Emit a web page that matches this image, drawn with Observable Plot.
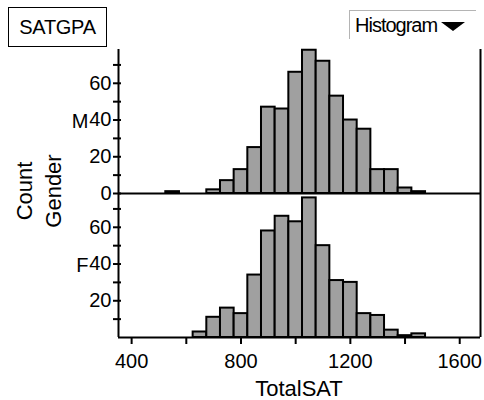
<!DOCTYPE html>
<html>
<head>
<meta charset="utf-8">
<script src="https://cdn.jsdelivr.net/npm/d3@7"></script>
<script src="https://cdn.jsdelivr.net/npm/@observablehq/plot@0.6"></script>
<style>
  body { margin: 0; background: #fff; }
  #wrap { position: relative; width: 484px; height: 400px; font-family: "Liberation Sans", Arial, sans-serif; color: #000; overflow: hidden; }
  #wrap svg { position: absolute; left: 0; top: 0; }
  .lbl { position: absolute; white-space: nowrap; line-height: 1; }
  #title { left: 8px; top: 7px; width: 97px; height: 38px; border: 1px solid #000; display: flex; align-items: center; justify-content: center; font-size: 20px; letter-spacing: -0.3px; }
  #menu { left: 349px; top: 10px; width: 126px; height: 28px; border-top: 1px solid #b4b4b4; border-left: 1px solid #b4b4b4; }
  #menu span { position: absolute; left: 5px; top: 4px; font-size: 20px; letter-spacing: -1px; }
  #menu i { position: absolute; left: 91px; top: 11px; width: 0; height: 0; border-left: 12px solid transparent; border-right: 12px solid transparent; border-top: 9px solid #000; }
  .rot { transform: translate(-50%, -50%) rotate(-90deg); font-size: 22px; }
  #xlab { left: 299px; top: 378px; transform: translateX(-50%); font-size: 22px; }
</style>
</head>
<body>
<div id="wrap">
  <div id="title" class="lbl">SATGPA</div>
  <div id="menu" class="lbl"><span>Histogram</span><i></i></div>
  <div class="lbl rot" style="left:25px; top:191px;">Count</div>
  <div class="lbl rot" style="left:54px; top:191px;">Gender</div>
  <div id="xlab" class="lbl">TotalSAT</div>
</div>
<script>
// bin lower edges (TotalSAT), bin width 50
const binLo = [525, 575, 625, 675, 725, 775, 825, 875, 925, 975, 1025, 1075, 1125, 1175, 1225, 1275, 1325, 1375, 1425];
const binWidth = 50;
const countsM = [1, 0, 0, 2, 7, 13, 25, 47, 46, 66, 78, 72, 53, 40, 35, 13, 13, 3, 1];
const countsF = [0, 0, 3, 11, 16, 13, 34, 58, 66, 63, 76, 50, 31, 30, 13, 12, 4, 1, 2];
const genders = ["M", "F"];
const xDomain = [352, 1676];
const xTicks = [400, 600, 800, 1000, 1200, 1400, 1600];
const xLabels = [400, 800, 1200, 1600];
const yTicksM = [0, 10, 20, 30, 40, 50, 60, 70];
const yTicksF = [10, 20, 30, 40, 50, 60, 70];
const yLabelsM = [0, 20, 40, 60];
const yLabelsF = [20, 40, 60];
const yMax = 78.4;

const rows = [];
binLo.forEach((lo, i) => {
  rows.push({g: "M", lo, hi: lo + binWidth, n: countsM[i]});
  rows.push({g: "F", lo, hi: lo + binWidth, n: countsF[i]});
});
const tickRows = [...yTicksM.map(v => ({g: "M", v})), ...yTicksF.map(v => ({g: "F", v}))];
const labelRows = [...yLabelsM.map(v => ({g: "M", v})), ...yLabelsF.map(v => ({g: "F", v}))];

const chart = Plot.plot({
  width: 484,
  height: 400,
  marginTop: 48,
  marginBottom: 63,
  marginLeft: 118,
  marginRight: 4,
  style: {fontFamily: "'Liberation Sans', Arial, sans-serif", fontSize: "20px", color: "#000", background: "transparent"},
  x: {domain: xDomain, axis: null},
  y: {domain: [0, yMax], axis: null},
  fy: {domain: genders, padding: 0, axis: null},
  marks: [
    Plot.rectY(rows.filter(d => d.n > 0), {x1: "lo", x2: "hi", y: "n", fy: "g", fill: "#a0a0a0", stroke: "#000", strokeWidth: 2}),
    Plot.ruleY([0], {stroke: "#000", strokeWidth: 2}),
    Plot.ruleX(xDomain, {stroke: "#000", strokeWidth: 2}),
    Plot.ruleY(tickRows, {y: "v", fy: "g", x1: xDomain[0], x2: xDomain[0], insetLeft: -5, insetRight: -3, stroke: "#000", strokeWidth: 2}),
    Plot.text(labelRows, {y: "v", fy: "g", text: d => String(d.v), frameAnchor: "left", textAnchor: "end", dx: -7, fontSize: 20}),
    Plot.text(genders, {fy: d => d, text: d => d, frameAnchor: "left", textAnchor: "end", dx: -30, fontSize: 20}),
    Plot.axisX(xTicks, {tickSize: 7, tickPadding: 9, strokeWidth: 2, fontSize: 20, label: null,
      tickFormat: d => xLabels.includes(d) ? String(d) : ""})
  ]
});
document.getElementById("wrap").prepend(chart);
</script>
</body>
</html>
